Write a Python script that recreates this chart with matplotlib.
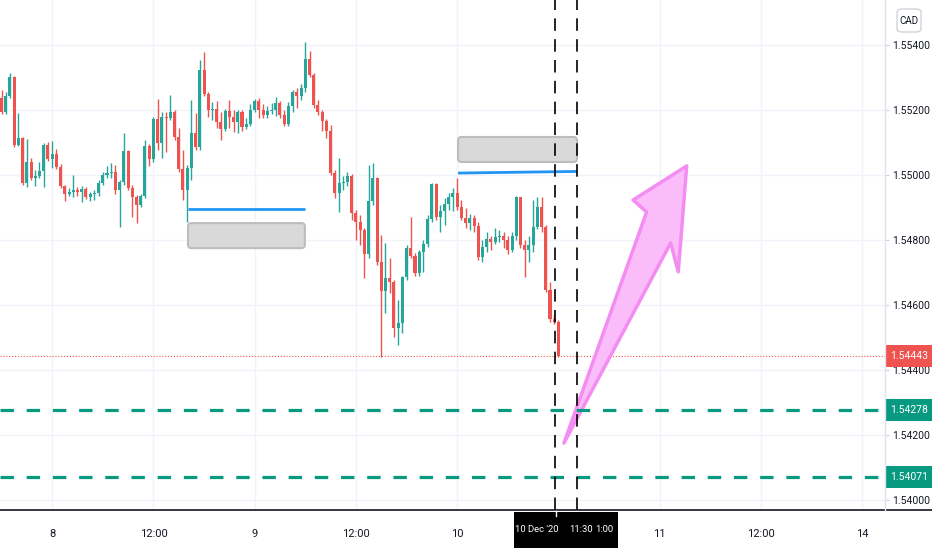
import numpy as np
import matplotlib
matplotlib.use('Agg')
import matplotlib.pyplot as plt
from matplotlib.patches import Rectangle, FancyBboxPatch, Polygon
from matplotlib.lines import Line2D

plt.rcParams['font.family'] = ['Roboto', 'DejaVu Sans']

# 30 min candles, 7 Dec 2020 18:00 -> 10 Dec 2020 12:00 (CAD quote)
opens = [
    1.55237, 1.55194, 1.55243, 1.55302, 1.55092, 1.55114, 1.54975, 1.55040, 1.54991, 1.54997,
    1.55012, 1.55092, 1.55049, 1.55065, 1.55025, 1.54966, 1.54942, 1.54948, 1.54954, 1.54948,
    1.54957, 1.54932, 1.54942, 1.54945, 1.54975, 1.55000, 1.55006, 1.55009, 1.54954, 1.54978,
    1.55074, 1.54960, 1.54932, 1.54908, 1.54935, 1.55089, 1.55049, 1.55172, 1.55098, 1.55178,
    1.55175, 1.55194, 1.55117, 1.55018, 1.54954, 1.55022, 1.55129, 1.55086, 1.55323, 1.55249,
    1.55200, 1.55203, 1.55163, 1.55142, 1.55197, 1.55178, 1.55163, 1.55194, 1.55148, 1.55157,
    1.55200, 1.55228, 1.55200, 1.55185, 1.55197, 1.55200, 1.55222, 1.55185, 1.55157, 1.55212,
    1.55255, 1.55243, 1.55268, 1.55357, 1.55308, 1.55215, 1.55194, 1.55166, 1.55135, 1.55006,
    1.54945, 1.54975, 1.54978, 1.54997, 1.54883, 1.54855, 1.54831, 1.54757, 1.54920, 1.54991,
    1.54732, 1.54643, 1.54683, 1.54671, 1.54529, 1.54545, 1.54686, 1.54775, 1.54751, 1.54698,
    1.54763, 1.54788, 1.54865, 1.54972, 1.54871, 1.54889, 1.54911, 1.54932, 1.54945, 1.54902,
    1.54868, 1.54852, 1.54868, 1.54843, 1.54748, 1.54778, 1.54803, 1.54794, 1.54809, 1.54812,
    1.54800, 1.54769, 1.54812, 1.54932, 1.54785, 1.54769, 1.54785, 1.54840, 1.54902, 1.54840,
    1.54646, 1.54557, 1.54548,
]
highs = [
    1.55262, 1.55255, 1.55314, 1.55305, 1.55191, 1.55117, 1.55111, 1.55052, 1.55015, 1.55040,
    1.55098, 1.55102, 1.55105, 1.55080, 1.55034, 1.54969, 1.54960, 1.55000, 1.54963, 1.54966,
    1.54963, 1.54948, 1.54954, 1.54985, 1.55009, 1.55028, 1.55037, 1.55031, 1.54985, 1.55129,
    1.55077, 1.54969, 1.54938, 1.54942, 1.55108, 1.55095, 1.55178, 1.55234, 1.55194, 1.55194,
    1.55246, 1.55200, 1.55145, 1.55077, 1.55031, 1.55231, 1.55191, 1.55354, 1.55378, 1.55255,
    1.55225, 1.55228, 1.55194, 1.55203, 1.55231, 1.55200, 1.55200, 1.55200, 1.55175, 1.55218,
    1.55234, 1.55237, 1.55218, 1.55212, 1.55222, 1.55240, 1.55228, 1.55200, 1.55225, 1.55262,
    1.55268, 1.55280, 1.55409, 1.55382, 1.55314, 1.55231, 1.55200, 1.55172, 1.55154, 1.55015,
    1.55052, 1.54997, 1.55009, 1.55003, 1.54892, 1.54877, 1.54837, 1.55031, 1.55037, 1.54994,
    1.54815, 1.54791, 1.54745, 1.54677, 1.54615, 1.54689, 1.54785, 1.54871, 1.54760, 1.54769,
    1.54800, 1.54877, 1.54975, 1.54975, 1.54908, 1.54929, 1.54945, 1.54960, 1.54991, 1.54923,
    1.54898, 1.54880, 1.54877, 1.54855, 1.54800, 1.54825, 1.54812, 1.54837, 1.54831, 1.54825,
    1.54812, 1.54825, 1.54935, 1.54932, 1.54800, 1.54812, 1.54923, 1.54932, 1.54932, 1.54846,
    1.54671, 1.54572, 1.54554,
]
lows = [
    1.55188, 1.55188, 1.55237, 1.55086, 1.55089, 1.54969, 1.54963, 1.54985, 1.54966, 1.54991,
    1.54963, 1.55043, 1.55022, 1.55018, 1.54960, 1.54920, 1.54935, 1.54932, 1.54935, 1.54917,
    1.54926, 1.54920, 1.54923, 1.54935, 1.54969, 1.54991, 1.54991, 1.54942, 1.54840, 1.54969,
    1.54954, 1.54871, 1.54852, 1.54902, 1.54929, 1.55028, 1.55040, 1.55077, 1.55052, 1.55071,
    1.55169, 1.55108, 1.55009, 1.54923, 1.54855, 1.54985, 1.55077, 1.55077, 1.55243, 1.55178,
    1.55169, 1.55145, 1.55108, 1.55135, 1.55145, 1.55132, 1.55129, 1.55135, 1.55142, 1.55151,
    1.55194, 1.55175, 1.55175, 1.55175, 1.55188, 1.55182, 1.55175, 1.55151, 1.55151, 1.55194,
    1.55206, 1.55231, 1.55255, 1.55302, 1.55206, 1.55185, 1.55135, 1.55114, 1.55000, 1.54929,
    1.54886, 1.54954, 1.54966, 1.54862, 1.54800, 1.54785, 1.54683, 1.54745, 1.54908, 1.54723,
    1.54440, 1.54575, 1.54637, 1.54502, 1.54477, 1.54514, 1.54677, 1.54745, 1.54689, 1.54689,
    1.54702, 1.54778, 1.54855, 1.54862, 1.54825, 1.54846, 1.54892, 1.54889, 1.54892, 1.54862,
    1.54837, 1.54831, 1.54825, 1.54738, 1.54732, 1.54763, 1.54769, 1.54788, 1.54794, 1.54775,
    1.54757, 1.54763, 1.54800, 1.54775, 1.54686, 1.54732, 1.54763, 1.54834, 1.54825, 1.54640,
    1.54548, 1.54542, 1.54440,
]
closes = [
    1.55194, 1.55243, 1.55302, 1.55092, 1.55114, 1.54975, 1.55040, 1.54991, 1.54997, 1.55012,
    1.55092, 1.55049, 1.55065, 1.55025, 1.54966, 1.54942, 1.54948, 1.54954, 1.54948, 1.54957,
    1.54932, 1.54942, 1.54945, 1.54975, 1.55000, 1.55006, 1.55009, 1.54954, 1.54978, 1.55074,
    1.54960, 1.54932, 1.54908, 1.54935, 1.55089, 1.55049, 1.55172, 1.55098, 1.55178, 1.55175,
    1.55194, 1.55117, 1.55018, 1.54954, 1.55022, 1.55129, 1.55086, 1.55323, 1.55249, 1.55200,
    1.55203, 1.55163, 1.55142, 1.55197, 1.55178, 1.55163, 1.55194, 1.55148, 1.55157, 1.55200,
    1.55228, 1.55200, 1.55185, 1.55197, 1.55200, 1.55222, 1.55185, 1.55157, 1.55212, 1.55255,
    1.55243, 1.55268, 1.55357, 1.55308, 1.55215, 1.55194, 1.55166, 1.55135, 1.55006, 1.54945,
    1.54975, 1.54978, 1.54997, 1.54883, 1.54855, 1.54831, 1.54757, 1.54920, 1.54991, 1.54732,
    1.54643, 1.54683, 1.54671, 1.54529, 1.54545, 1.54686, 1.54775, 1.54751, 1.54698, 1.54763,
    1.54788, 1.54865, 1.54972, 1.54871, 1.54889, 1.54911, 1.54932, 1.54945, 1.54902, 1.54868,
    1.54852, 1.54868, 1.54843, 1.54748, 1.54778, 1.54803, 1.54794, 1.54809, 1.54812, 1.54800,
    1.54769, 1.54812, 1.54932, 1.54785, 1.54769, 1.54785, 1.54840, 1.54902, 1.54840, 1.54646,
    1.54557, 1.54548, 1.54443,
]

price_ticks = [1.540, 1.542, 1.544, 1.546, 1.548, 1.550, 1.552, 1.554]
time_tick_bars = [12, 36, 60, 84, 108, 156, 180, 204]
time_tick_labels = ['8', '12:00', '9', '12:00', '10', '11', '12:00', '14']

last_price = 1.54443
support_levels = [1.54278, 1.54071]
crosshair_bars = [131.2, 136.4]

# drawings (bar index, price)
zones = [(44.2, 71.9, 1.54775, 1.54852), (108.2, 136.4, 1.55040, 1.55117)]
blue_lines = [((44.2, 1.54895), (71.9, 1.54895)), ((108.2, 1.55006), (136.4, 1.55011))]
arrow_pts = [(133.3, 1.54175), (152.9, 1.54886), (149.7, 1.54923),
             (162.4, 1.55028), (160.4, 1.54702), (158.6, 1.54791)]

UP, DOWN = '#26a69a', '#ef5350'
TEAL = '#089981'
TXT = '#131722'

fig = plt.figure(figsize=(9.32, 5.5), dpi=100)
ax = fig.add_axes([0, 40 / 550, 885 / 932, 510 / 550])
ax.set_xlim(-0.36, 209.4)
ax.set_ylim(1.539692, 1.555385)

o = np.array(opens)
h = np.array(highs)
l = np.array(lows)
c = np.array(closes)
x = np.arange(len(c))
cols = np.where(c >= o, UP, DOWN)

ax.vlines(x, l, h, colors=cols, lw=1.0, zorder=3)
ax.bar(x, np.maximum(np.abs(c - o), 0.000015), bottom=np.minimum(o, c), width=0.72,
       color=cols, linewidth=0, zorder=4)

# grid + axes
ax.set_yticks(price_ticks)
ax.set_yticklabels(['%.5f' % p for p in price_ticks])
ax.set_xticks(time_tick_bars)
ax.set_xticklabels(time_tick_labels)
ax.grid(True, color='#f0f3fa', lw=1)
ax.set_axisbelow(True)
ax.yaxis.tick_right()
ax.tick_params(axis='y', length=3, color='#d1d4dc', pad=2.5, labelsize=7.5, labelcolor=TXT)
ax.tick_params(axis='x', length=0, pad=14, labelsize=8, labelcolor=TXT)
for s in ax.spines.values():
    s.set_visible(False)

# zones and lines
ppx = 1 / 32500.0
for x0, x1, y0, y1 in zones:
    ax.add_patch(FancyBboxPatch((x0, y0), x1 - x0, y1 - y0,
                                boxstyle='round,pad=0,rounding_size=0.8',
                                mutation_aspect=0.00013, fc='#d9d9d9', ec='#bdbdbd',
                                lw=1.5, zorder=2))
for (xa, ya), (xb, yb) in blue_lines:
    ax.plot([xa, xb], [ya, yb], color='#2196f3', lw=2, solid_capstyle='butt', zorder=5)

ax.add_patch(Polygon(arrow_pts, closed=True, fc='#fbbdf9', ec='#f48df2', lw=2.5,
                     joinstyle='round', zorder=5))

ax.axhline(last_price, color=DOWN, lw=0.8, ls=(0, (1, 1.6)), zorder=2)
for lev in support_levels:
    ax.axhline(lev, color=TEAL, lw=2.3, ls=(0, (4.2, 4.0)), zorder=6)
for b in crosshair_bars:
    ax.axvline(b, color='black', lw=1.2, ls=(0, (7.5, 5)), zorder=7)

# price tags on the scale
ytr = ax.get_yaxis_transform()
half = 11 * ppx
for lev, col in [(last_price, DOWN)] + [(s, TEAL) for s in support_levels]:
    ax.add_patch(Rectangle((1.0011, lev - half), 0.053, 2 * half, transform=ytr,
                           fc=col, ec='none', clip_on=False, zorder=10))
    ax.text(1.0275, lev, '%.5f' % lev, transform=ytr, color='white', fontsize=7.5,
            ha='center', va='center', zorder=11, clip_on=False)

# frame lines
fig.add_artist(Line2D([0, 1], [40 / 550, 40 / 550], color=TXT, lw=1.2,
                      transform=fig.transFigure))
fig.add_artist(Line2D([885 / 932, 885 / 932], [40 / 550, 1], color='#e0e3eb', lw=1,
                      transform=fig.transFigure))

# crosshair time label
fig.add_artist(Rectangle((514 / 932, 2 / 550), 104 / 932, 36 / 550, fc='black', ec='none',
                         transform=fig.transFigure, zorder=20))
fig.add_artist(Line2D([556 / 932, 556 / 932], [34 / 550, 39 / 550], color='white', lw=1,
                      transform=fig.transFigure, zorder=21))
fig.text(537 / 932, 20 / 550, "10 Dec '20", color='white', fontsize=6.8, ha='center',
         va='center', zorder=22)
fig.text(581 / 932, 20 / 550, '11:30', color='white', fontsize=6.8, ha='center',
         va='center', zorder=22)
fig.text(604 / 932, 20 / 550, '1:00', color='white', fontsize=6.8, ha='center',
         va='center', zorder=22)

# currency badge
fig.add_artist(FancyBboxPatch((897 / 932, 518 / 550), 24 / 932, 23 / 550,
                              boxstyle='round,pad=0,rounding_size=0.006',
                              fc='white', ec='#d1d4dc', lw=1, transform=fig.transFigure))
fig.text(909 / 932, 529.5 / 550, 'CAD', color=TXT, fontsize=7, ha='center', va='center')

fig.savefig('out.png', dpi=100, facecolor='white')
